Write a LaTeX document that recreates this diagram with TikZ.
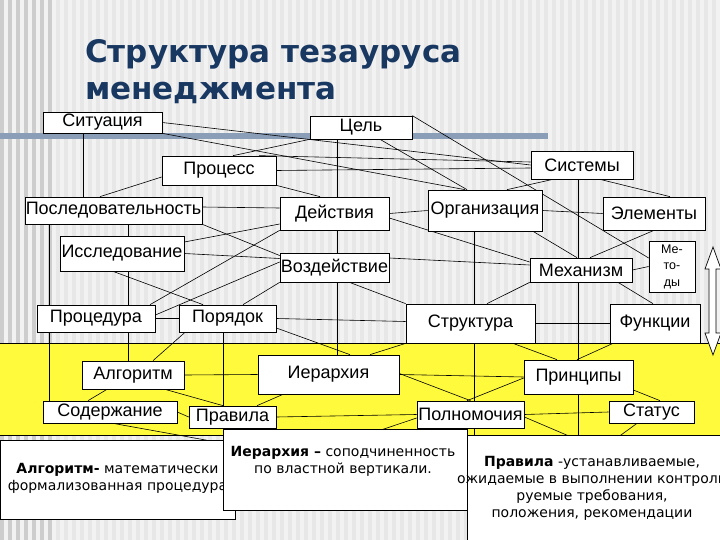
\documentclass[tikz,border=0pt]{standalone}
\usepackage{fontspec}
\setmainfont{Liberation Sans}
\newfontfamily\verdfont{DejaVu Sans}
\usetikzlibrary{calc}
\definecolor{ttlblue}{RGB}{24,56,98}
\definecolor{slideyellow}{RGB}{255,250,60}
\definecolor{barblue}{RGB}{138,158,184}
\definecolor{slidegray}{RGB}{242,242,242}
\definecolor{stripegray}{RGB}{231,231,231}
\definecolor{edgegray}{RGB}{205,205,205}
\pgfdeclarelayer{back}
\pgfdeclarelayer{wires}
\pgfsetlayers{back,wires,main}
\tikzset{
  term/.style 2 args={draw, fill=white, line width=0.7pt, inner sep=0pt,
    minimum width=#1, minimum height=#2, font=\fontsize{18}{20}\selectfont},
  link/.style={line width=0.6pt},
  defbox/.style={draw, fill=white, line width=0.8pt, inner sep=0pt},
  deftext/.style={font=\verdfont\fontsize{14}{17}\selectfont, align=center, inner sep=0pt},
  ttl/.style={anchor=base west, inner sep=0pt, text=ttlblue,
    font=\verdfont\bfseries\fontsize{31}{37}\selectfont}
}

\begin{document}
\begin{tikzpicture}[x=1pt, y=-1pt]

\useasboundingbox (0,0) rectangle (720,540);

% === Фон слайда ===
\begin{pgfonlayer}{back}
    \fill[slidegray] (0,0) rectangle (720,540);
    \foreach \i in {0,...,89} \fill[stripegray] (8*\i,0) rectangle ++(4,540);
    \foreach \i in {0,...,6} \fill[edgegray] (8*\i,0) rectangle ++(4,540);
    \fill[barblue] (0,133) rectangle (548,139);
    % Жёлтая полоса
    \fill[slideyellow] (0,343) rectangle (720,435);
    \draw[line width=0.7pt] (0,343) -- (720,343);
    \draw[line width=0.7pt] (0,435) -- (720,435);
\end{pgfonlayer}

% === Заголовок ===
\node[ttl] (ttl1) at (85,63) {Структура тезауруса};
\node[ttl] (ttl2) at (85,100) {менеджмента};

% === Понятия ===
\node[term={119pt}{21pt}] (sit) at (102.5,122.5) {Ситуация};
\node[term={102pt}{23pt}] (cel) at (361,127.5) {Цель};
\node[term={114pt}{29pt}] (proc) at (219,170.5) {Процесс};
\node[term={102pt}{28pt}] (sys) at (582,165) {Системы};
\node[term={177pt}{27pt}] (posl) at (113.5,210.5) {Последовательность};
\node[term={109pt}{33pt}] (deys) at (334.5,213.5) {Действия};
\node[term={114pt}{41pt}] (org) at (485,210.5) {Организация};
\node[term={102pt}{33pt}] (elem) at (654,213.5) {Элементы};
\node[term={124pt}{35pt}] (issl) at (122,253.5) {Исследование};
\node[term={109pt}{29pt}] (vozd) at (334.5,267.5) {Воздействие};
\node[term={102pt}{24pt}] (meh) at (581,270) {Механизм};
\node[term={46pt}{51pt}, align=center, font=\fontsize{12.5}{16.5}\selectfont] (met) at (672,266.5) {Ме-\\то-\\ды};
\node[term={118pt}{27pt}] (procd) at (96,318.5) {Процедура};
\node[term={97pt}{27pt}] (por) at (227.5,318.5) {Порядок};
\node[term={129pt}{39pt}] (str) at (470.5,323.5) {Структура};
\node[term={90pt}{39pt}] (func) at (655,323.5) {Функции};
\node[term={102pt}{28pt}] (alg) at (133,375) {Алгоритм};
\node[term={141pt}{39pt}] (ier) at (328.5,374.5) {Иерархия};
\node[term={109pt}{34pt}] (princ) at (578.5,377) {Принципы};
\node[term={134pt}{22pt}] (sod) at (110,412) {Содержание};
\node[term={87pt}{22pt}] (prav) at (232.5,417) {Правила};
\node[term={107pt}{27pt}] (poln) at (470.5,414.5) {Полномочия};
\node[term={85pt}{22pt}] (stat) at (651.5,412) {Статус};

% === Определения ===
\node[defbox, minimum width=235pt, minimum height=79pt] (defalg) at (117.5,479.5) {};
\node[deftext] (defalgtxt) at (117.5,478) {\textbf{Алгоритм-} математически\\формализованная процедура};
\node[defbox, minimum width=244pt, minimum height=81pt] (defier) at (345,469.5) {};
\node[deftext] (defiertxt) at (343,461) {\textbf{Иерархия –} соподчиненность\\по властной вертикали.};
\node[defbox, minimum width=260pt, minimum height=115pt] (defprav) at (597,492.5) {};
\node[deftext] (defpravtxt) at (592,488) {\textbf{Правила} -устанавливаемые,\\ожидаемые в выполнении контроли\\руемые требования,\\положения, рекомендации};

% Двойная стрелка справа
\draw[fill=white, line width=0.7pt] (713,247) -- (721,269) -- (716,269) -- (716,333) -- (721,333)
    -- (713,355) -- (705,333) -- (709,333) -- (709,269) -- (705,269) -- cycle;

% Концы линий, скрытые под определениями
\coordinate (sodend) at (250,448);
\coordinate (polnleft) at (360,437);
\coordinate (polnright) at (590,445);
\coordinate (statend) at (610,443);

% === Связи ===
\begin{pgfonlayer}{wires}
    % верхний ряд
    \draw[link] (sit.east) -- (sys.west);
    \draw[link] (sit.south east) -- ([xshift=-20pt]org.north);
    \draw[link] ([xshift=-19.5pt]sit.south) -- ([xshift=-19.5pt]sit.south |- posl.north);
    \draw[link] ([xshift=14pt]proc.north) -- (cel.south west);
    \draw[link] (proc.east) -- ([yshift=-3pt]sys.west);
    \draw[link] ([xshift=40pt]proc.north) -- ([yshift=3pt]sys.west);
    \draw[link] (proc.south east) -- ([xshift=-14.5pt]deys.north);
    \draw[link] ([yshift=-6.5pt]proc.west) -- ([xshift=-13.5pt]posl.north);
    \draw[link] ([xshift=-24pt]cel.south) -- ([xshift=-24pt]cel.south |- ier.north);
    \draw[link] ([xshift=19pt]cel.south) -- ([xshift=-18pt]org.north);
    \draw[link] (cel.north east) -- ([yshift=8.5pt]met.west);
    \draw[link] ([xshift=-29pt]sys.south) -- ([xshift=22pt]org.north);
    \draw[link] ([xshift=18pt]sys.south) -- ([xshift=16pt]elem.north);
    \draw[link] ([xshift=-4pt]sys.south) -- ([xshift=-4pt]sys.south |- defprav.north);
    % средний ряд
    \draw[link] ([yshift=3.5pt]posl.east) -- ([yshift=5.5pt]deys.west);
    \draw[link] (deys.east) -- (org.west);
    \draw[link] (org.east) -- (elem.west);
    \draw[link] ([xshift=-64.5pt]posl.south) -- ([xshift=-64.5pt]posl.south |- sod.north);
    \draw[link] ([xshift=14.5pt]posl.south) -- ([xshift=14.5pt]posl.south |- alg.north);
    \draw[link] (posl.south east) -- ([yshift=12pt]vozd.west);
    \draw[link] ([yshift=11.5pt]issl.east) -- ([yshift=-10.5pt]deys.west);
    \draw[link] (issl.east) -- ([yshift=9pt]vozd.west);
    \draw[link] ([xshift=-9pt]issl.south) -- ([xshift=-24.5pt]por.north);
    \draw[link] ([xshift=54pt]procd.north) -- (deys.south west);
    \draw[link] ([yshift=3.5pt]procd.east) -- ([yshift=5.5pt]vozd.west);
    \draw[link] (procd.east) -- (por.west);
    \draw[link] (vozd.south west) -- ([xshift=15.5pt]por.north);
    \draw[link] ([xshift=15pt]vozd.south) -- (str.north west);
    \draw[link] ([yshift=9.5pt]vozd.east) -- ([yshift=5pt]meh.west);
    \draw[link] ([yshift=-4.5pt]deys.east) -- ([yshift=8pt]meh.west);
    \draw[link] ([xshift=48pt]org.south) -- ([xshift=-4pt]meh.north);
    \draw[link] (elem.south) -- ([xshift=9pt]meh.north);
    \draw[link] (meh.east) -- (met.west);
    \draw[link] ([xshift=-11pt]org.south) -- ([xshift=-11pt]org.south |- defprav.north);
    \draw[link] (meh.south west) -- ([xshift=16.5pt]str.north);
    \draw[link] ([xshift=37pt]meh.south) -- ([xshift=-2pt]func.north);
    \draw[link] (por.east) -- ([yshift=2pt]str.west);
    \draw[link] (str.east) -- (func.west);
    % нижний ряд
    \draw[link] ([xshift=-42.5pt]por.south) -- ([xshift=20pt]alg.north);
    \draw[link] ([xshift=-4.5pt]por.south) -- ([xshift=-4.5pt]por.south |- prav.north);
    \draw[link] ([yshift=-9.5pt]por.east) -- ([xshift=21.5pt]ier.north);
    \draw[link] (str.south west) -- ([xshift=41.5pt]ier.north);
    \draw[link] ([xshift=42.5pt]str.south) -- ([xshift=-21.5pt]princ.north);
    \draw[link] ([xshift=-42pt]func.south) -- ([xshift=-1.5pt]princ.north);
    \draw[link] (alg.east) -- (ier.west);
    \draw[link] (ier.east) -- (princ.west);
    \draw[link] ([xshift=-26pt]alg.south) -- ([xshift=-22pt]sod.north);
    \draw[link] ([xshift=32pt]alg.south) -- ([xshift=-9.5pt]prav.north);
    \draw[link] ([xshift=-45.5pt]ier.south) -- ([xshift=24.5pt]prav.north);
    \draw[link] ([yshift=1pt]ier.east) -- (poln.north);
    \draw[link] ([yshift=-1pt]princ.west) -- ([xshift=-3.5pt]poln.north);
    \draw[link] ([yshift=-13pt]princ.east) -- ([xshift=8.5pt]stat.north);
    \draw[link] (sod.east) -- (prav.west);
    \draw[link] (prav.east) -- (poln.west);
    \draw[link] (poln.east) -- (stat.west);
    \draw[link] ([xshift=3pt]sod.south) -- (sodend);
    \draw[link] ([yshift=-3.5pt]poln.west) -- (polnleft);
    \draw[link] ([yshift=-2.5pt]poln.east) -- (polnright);
    \draw[link] ([xshift=-14.5pt]stat.south) -- (statend);
\end{pgfonlayer}

\end{tikzpicture}
\end{document}
